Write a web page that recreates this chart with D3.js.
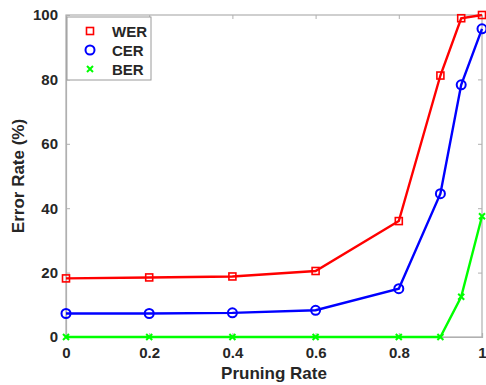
<!DOCTYPE html>
<html>
<head>
<meta charset="utf-8">
<script src="https://cdn.jsdelivr.net/npm/d3@7"></script>
<style>
  body { margin: 0; background: #fff; }
  text { font-family: "Liberation Sans", Arial, sans-serif; font-weight: bold; fill: #262626; }
</style>
</head>
<body>
<script>
const width = 486, height = 385;
const margin = { top: 15, right: 4, bottom: 48, left: 66 };

// data
const pruningRates = [0, 0.2, 0.4, 0.6, 0.8, 0.9, 0.95, 1];
const werValues = [18.2, 18.5, 18.8, 20.5, 36, 81.2, 99, 100];
const cerValues = [7.3, 7.3, 7.5, 8.3, 15, 44.5, 78.3, 95.7];
const berValues = [0, 0, 0, 0, 0, 0, 12.5, 37.5];
const xTicks = [0, 0.2, 0.4, 0.6, 0.8, 1];
const yTicks = [0, 20, 40, 60, 80, 100];

const series = [
  { name: "WER", values: werValues, color: "#ff0000", marker: "square" },
  { name: "CER", values: cerValues, color: "#0000ff", marker: "circle" },
  { name: "BER", values: berValues, color: "#00ff00", marker: "x" }
];

const svg = d3.select("body").append("svg")
  .attr("width", width)
  .attr("height", height);

const x = d3.scaleLinear().domain([0, 1]).range([margin.left, width - margin.right]);
const y = d3.scaleLinear().domain([0, 100]).range([height - margin.bottom, margin.top]);

// frame box
svg.append("rect")
  .attr("x", x(0)).attr("y", y(100))
  .attr("width", x(1) - x(0)).attr("height", y(0) - y(100))
  .attr("fill", "none").attr("stroke", "#b0b0b0").attr("stroke-width", 1.2);

const xAxis = svg.append("g")
  .attr("transform", "translate(0," + y(0) + ")")
  .call(d3.axisBottom(x).tickValues(xTicks).tickSize(-4).tickPadding(10)
    .tickFormat(d => d === 0 ? "0" : d === 1 ? "1" : d3.format(".1f")(d)));
const yAxis = svg.append("g")
  .attr("transform", "translate(" + x(0) + ",0)")
  .call(d3.axisLeft(y).tickValues(yTicks).tickSize(-4).tickPadding(8));
[xAxis, yAxis].forEach(g => {
  g.select(".domain").attr("stroke", "#b0b0b0").attr("stroke-width", 1.2);
  g.selectAll(".tick line").attr("stroke", "#b0b0b0");
  g.selectAll("text").style("font-size", "15px").style("font-weight", "bold")
    .attr("fill", "#262626").style("font-family", "'Liberation Sans', Arial, sans-serif");
});
// top/right ticks like the matlab box
svg.append("g").attr("transform", "translate(0," + y(100) + ")")
  .call(d3.axisTop(x).tickValues(xTicks).tickSize(-4).tickFormat(""))
  .call(g => { g.select(".domain").remove(); g.selectAll("line").attr("stroke", "#b0b0b0"); });
svg.append("g").attr("transform", "translate(" + x(1) + ",0)")
  .call(d3.axisRight(y).tickValues(yTicks).tickSize(-4).tickFormat(""))
  .call(g => { g.select(".domain").remove(); g.selectAll("line").attr("stroke", "#b0b0b0"); });

// axis labels
svg.append("text")
  .attr("x", (x(0) + x(1)) / 2).attr("y", 379)
  .attr("text-anchor", "middle").style("font-size", "17px")
  .text("Pruning Rate");
svg.append("text")
  .attr("transform", "translate(24," + ((y(0) + y(100)) / 2) + ") rotate(-90)")
  .attr("text-anchor", "middle").style("font-size", "17px")
  .text("Error Rate (%)");

function drawMarker(g, type, color, cx, cy) {
  if (type === "square") {
    g.append("rect").attr("x", cx - 3.5).attr("y", cy - 3.5).attr("width", 7).attr("height", 7)
      .attr("fill", "none").attr("stroke", color).attr("stroke-width", 1.6);
  } else if (type === "circle") {
    g.append("circle").attr("cx", cx).attr("cy", cy).attr("r", 4.5)
      .attr("fill", "none").attr("stroke", color).attr("stroke-width", 2);
  } else {
    g.append("path")
      .attr("d", `M${cx - 3},${cy - 3}L${cx + 3},${cy + 3}M${cx - 3},${cy + 3}L${cx + 3},${cy - 3}`)
      .attr("stroke", color).attr("stroke-width", 2);
  }
}

const line = d3.line().x(d => x(d[0])).y(d => y(d[1]));

series.forEach(s => {
  const pts = pruningRates.map((r, i) => [r, s.values[i]]);
  const g = svg.append("g");
  g.append("path").datum(pts).attr("d", line)
    .attr("fill", "none").attr("stroke", s.color).attr("stroke-width", 2.4);
  pts.forEach(p => drawMarker(g, s.marker, s.color, x(p[0]), y(p[1])));
});

// legend
const legend = svg.append("g");
legend.append("rect")
  .attr("x", 67).attr("y", 17).attr("width", 84).attr("height", 63)
  .attr("fill", "#fff").attr("stroke", "#9a9a9a").attr("stroke-width", 1);
series.forEach((s, i) => {
  const ly = 31 + i * 19;
  drawMarker(legend, s.marker, s.color, 90, ly);
  legend.append("text").attr("x", 112).attr("y", ly + 5.5)
    .style("font-size", "15px").text(s.name);
});
</script>
</body>
</html>
